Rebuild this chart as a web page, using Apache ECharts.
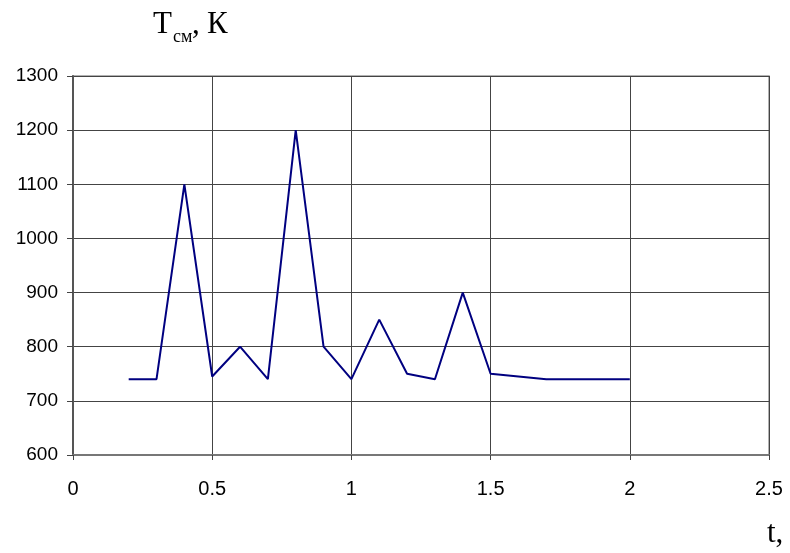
<!DOCTYPE html>
<html>
<head>
<meta charset="utf-8">
<script src="https://cdn.jsdelivr.net/npm/echarts@6/dist/echarts.min.js"></script>
<style>
  html, body { margin: 0; padding: 0; background: #fff; }
  #chart { width: 790px; height: 553px; }
</style>
</head>
<body>
<div id="chart"></div>
<script>
// time, s
const times = [0.2, 0.3, 0.4, 0.5, 0.6, 0.7, 0.8, 0.9, 1.0, 1.1, 1.2, 1.3, 1.4, 1.5, 1.6, 1.7, 1.8, 1.9, 2.0]
// mixture temperature, K
const temps = [740, 740, 1100, 745, 800, 740, 1200, 800, 740, 850, 750, 740, 900, 750, 745, 740, 740, 740, 740]

const chart = echarts.init(document.getElementById('chart'))

const serif = '"Liberation Serif", "DejaVu Serif", serif'
const sans = '"Liberation Sans", Arial, sans-serif'

chart.setOption({
  animation: false,
  grid: {
    left: 73,
    top: 76,
    right: 21,
    bottom: 98,
    show: true,
    borderColor: '#999',
    borderWidth: 1.5
  },
  xAxis: {
    type: 'value',
    min: 0,
    max: 2.5,
    interval: 0.5,
    axisLine: { show: true, lineStyle: { color: '#777', width: 2 } },
    axisTick: { show: true, length: 5, lineStyle: { color: '#444' } },
    axisLabel: { color: '#000', fontSize: 20, fontFamily: sans, margin: 24 },
    splitLine: { show: true, lineStyle: { color: '#444', width: 1 } }
  },
  yAxis: {
    type: 'value',
    min: 600,
    max: 1300,
    interval: 100,
    axisLine: { show: true, lineStyle: { color: '#555', width: 2 } },
    axisTick: { show: true, length: 6, lineStyle: { color: '#444' } },
    axisLabel: { color: '#000', fontSize: 19, fontFamily: sans, margin: 15, formatter: v => String(v) },
    splitLine: { show: true, lineStyle: { color: '#444', width: 1 } }
  },
  graphic: [
    { type: 'text', left: 153, top: 9, style: { text: 'T', font: '31px ' + serif, fill: '#000' } },
    { type: 'text', left: 173, top: 28, style: { text: 'см', font: '18px ' + serif, fill: '#000' } },
    { type: 'text', left: 192, top: 9, style: { text: ',', font: '31px ' + serif, fill: '#000' } },
    { type: 'text', left: 207, top: 9, style: { text: 'К', font: '31px ' + serif, fill: '#000' } },
    { type: 'text', left: 767, top: 518, style: { text: 't,', font: '31px ' + serif, fill: '#000' } }
  ],
  series: [
    {
      type: 'line',
      data: times.map((t, i) => [t, temps[i]]),
      symbol: 'none',
      lineStyle: { color: '#000080', width: 2 }
    }
  ]
})
</script>
</body>
</html>
